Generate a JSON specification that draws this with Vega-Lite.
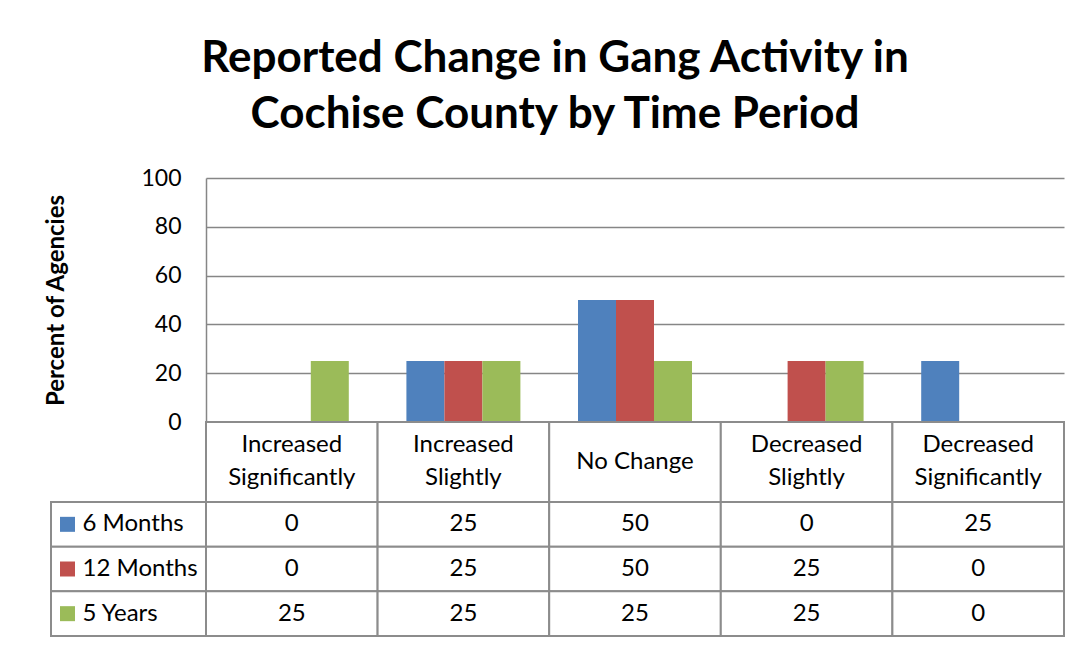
{
  "$schema": "https://vega.github.io/schema/vega-lite/v6.json",
  "padding": {"left": 44, "top": 37, "right": 23, "bottom": 10},
  "background": "white",
  "config": {"view": {"stroke": null}, "font": "Lato"},
  "title": {
    "text": ["Reported Change in Gang Activity in", "Cochise County by Time Period"],
    "font": "Lato", "fontSize": 44, "fontWeight": "bold", "lineHeight": 56,
    "anchor": "middle", "offset": 30, "color": "black"
  },
  "datasets": {
    "vals": [
      {"category": "Increased Significantly", "series": "6 Months", "value": 0},
      {"category": "Increased Slightly", "series": "6 Months", "value": 25},
      {"category": "No Change", "series": "6 Months", "value": 50},
      {"category": "Decreased Slightly", "series": "6 Months", "value": 0},
      {"category": "Decreased Significantly", "series": "6 Months", "value": 25},
      {"category": "Increased Significantly", "series": "12 Months", "value": 0},
      {"category": "Increased Slightly", "series": "12 Months", "value": 25},
      {"category": "No Change", "series": "12 Months", "value": 50},
      {"category": "Decreased Slightly", "series": "12 Months", "value": 25},
      {"category": "Decreased Significantly", "series": "12 Months", "value": 0},
      {"category": "Increased Significantly", "series": "5 Years", "value": 25},
      {"category": "Increased Slightly", "series": "5 Years", "value": 25},
      {"category": "No Change", "series": "5 Years", "value": 25},
      {"category": "Decreased Slightly", "series": "5 Years", "value": 25},
      {"category": "Decreased Significantly", "series": "5 Years", "value": 0}
    ],
    "cats": [
      {"category": "Increased Significantly", "label": "Increased\nSignificantly"},
      {"category": "Increased Slightly", "label": "Increased\nSlightly"},
      {"category": "No Change", "label": "No Change"},
      {"category": "Decreased Slightly", "label": "Decreased\nSlightly"},
      {"category": "Decreased Significantly", "label": "Decreased\nSignificantly"}
    ],
    "series": [
      {"series": "6 Months"},
      {"series": "12 Months"},
      {"series": "5 Years"}
    ]
  },
  "columns": 2,
  "spacing": 0,
  "bounds": "flush",
  "concat": [
    {"data": {"values": []}, "width": 155, "height": 244, "mark": "rect"},
    {
      "data": {"name": "vals"},
      "width": 858,
      "height": 244,
      "mark": {"type": "bar"},
      "encoding": {
        "x": {"field": "category", "type": "nominal",
          "scale": {"domain": ["Increased Significantly", "Increased Slightly", "No Change", "Decreased Slightly", "Decreased Significantly"], "paddingInner": 0, "paddingOuter": 0},
          "axis": null},
        "xOffset": {"field": "series", "type": "nominal",
          "scale": {"domain": ["6 Months", "12 Months", "5 Years"], "paddingInner": 0, "paddingOuter": 0.758}},
        "y": {"field": "value", "type": "quantitative",
          "scale": {"domain": [0, 100], "nice": false},
          "axis": {
            "values": [0, 20, 40, 60, 80, 100],
            "title": "Percent of Agencies",
            "titleFont": "Lato", "titleFontSize": 24, "titleFontWeight": "bold", "titleColor": "black",
            "titlePadding": 72,
            "labelFont": "Lato", "labelFontSize": 23, "labelColor": "black", "labelPadding": 25,
            "ticks": false,
            "domainColor": "#868686", "domainWidth": 1.5,
            "grid": true, "gridColor": "#868686", "gridWidth": 1.5
          }},
        "color": {"field": "series", "type": "nominal",
          "scale": {"domain": ["6 Months", "12 Months", "5 Years"], "range": ["#4F81BD", "#C0504D", "#9BBB59"]},
          "legend": null}
      }
    },
    {"data": {"values": []}, "width": 155, "height": 80, "mark": "rect"},
    {
      "data": {"name": "cats"},
      "width": 858,
      "height": 80,
      "encoding": {
        "x": {"field": "category", "type": "nominal",
          "scale": {"domain": ["Increased Significantly", "Increased Slightly", "No Change", "Decreased Slightly", "Decreased Significantly"], "paddingInner": 0, "paddingOuter": 0},
          "axis": null}
      },
      "layer": [
        {"mark": {"type": "rect", "fill": "white", "stroke": "#8c8c8c", "strokeWidth": 2}},
        {"transform": [{"filter": "indexof(datum.label, '\\n') >= 0"}],
          "mark": {"type": "text", "font": "Lato", "fontSize": 24, "lineBreak": "\n", "lineHeight": 33, "baseline": "line-bottom", "color": "black"},
          "encoding": {"text": {"field": "label"}}},
        {"transform": [{"filter": "indexof(datum.label, '\\n') < 0"}],
          "mark": {"type": "text", "font": "Lato", "fontSize": 24, "baseline": "middle", "color": "black"},
          "encoding": {"text": {"field": "label"}}}
      ]
    },
    {
      "data": {"name": "series"},
      "width": 155,
      "height": 134,
      "encoding": {
        "y": {"field": "series", "type": "nominal",
          "scale": {"domain": ["6 Months", "12 Months", "5 Years"], "paddingInner": 0, "paddingOuter": 0},
          "axis": null}
      },
      "layer": [
        {"mark": {"type": "rect", "fill": "white", "stroke": "#8c8c8c", "strokeWidth": 2}},
        {"mark": {"type": "square", "size": 225, "opacity": 1, "filled": true, "xOffset": -61},
          "encoding": {"color": {"field": "series", "type": "nominal",
            "scale": {"domain": ["6 Months", "12 Months", "5 Years"], "range": ["#4F81BD", "#C0504D", "#9BBB59"]},
            "legend": null}}},
        {"mark": {"type": "text", "align": "left", "dx": -46, "font": "Lato", "fontSize": 24, "baseline": "middle", "color": "black"},
          "encoding": {"text": {"field": "series"}}}
      ]
    },
    {
      "data": {"name": "vals"},
      "width": 858,
      "height": 134,
      "encoding": {
        "x": {"field": "category", "type": "nominal",
          "scale": {"domain": ["Increased Significantly", "Increased Slightly", "No Change", "Decreased Slightly", "Decreased Significantly"], "paddingInner": 0, "paddingOuter": 0},
          "axis": null},
        "y": {"field": "series", "type": "nominal",
          "scale": {"domain": ["6 Months", "12 Months", "5 Years"], "paddingInner": 0, "paddingOuter": 0},
          "axis": null}
      },
      "layer": [
        {"mark": {"type": "rect", "fill": "white", "stroke": "#8c8c8c", "strokeWidth": 2}},
        {"mark": {"type": "text", "font": "Lato", "fontSize": 24, "baseline": "middle", "color": "black"},
          "encoding": {"text": {"field": "value", "type": "quantitative"}}}
      ]
    }
  ]
}
